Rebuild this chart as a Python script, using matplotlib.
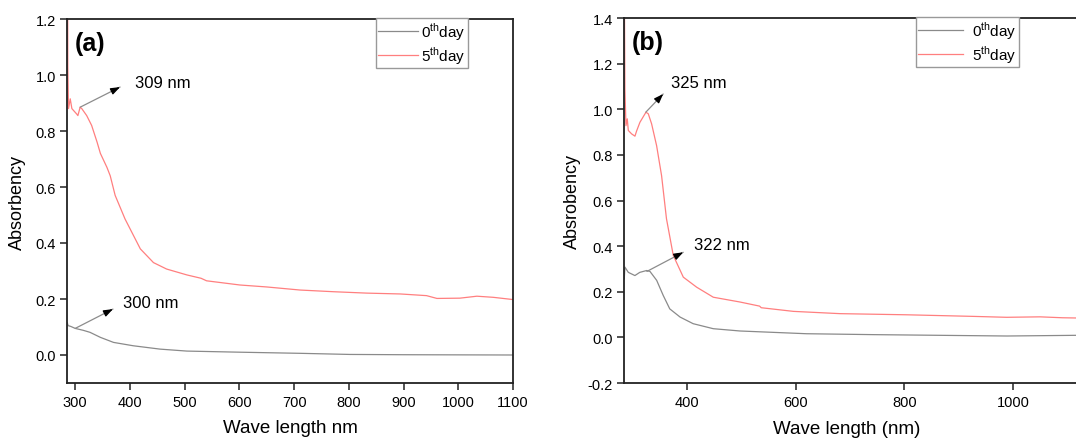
import matplotlib
matplotlib.use("Agg")
import matplotlib.pyplot as plt

plt.rcParams['font.family'] = ['Liberation Sans', 'DejaVu Sans']
plt.rcParams['mathtext.fontset'] = 'custom'
plt.rcParams['mathtext.rm'] = 'Liberation Sans'

# ---------------- data (a) ----------------
wl_a_day5 = [286, 286.5, 287.8, 290.9, 293.9, 303, 304.9, 309, 312, 321, 330, 340, 346,
             358, 364, 373, 391, 419, 443, 467, 504, 530, 540, 601, 650, 711, 772, 833,
             894, 942, 961, 1003, 1034, 1064, 1100]
abs_a_day5 = [1.5, 1.03, 0.88, 0.915, 0.88, 0.86, 0.855, 0.885, 0.88, 0.855, 0.82, 0.76, 0.72,
              0.67, 0.64, 0.57, 0.486, 0.379, 0.33, 0.307, 0.286, 0.274, 0.265, 0.25, 0.243,
              0.232, 0.226, 0.221, 0.218, 0.212, 0.202, 0.203, 0.21, 0.206, 0.198]
wl_a_day0 = [285.5, 287, 292, 300, 315, 327, 346, 370, 406, 455, 504, 601, 711, 802, 900, 1100]
abs_a_day0 = [0.115, 0.105, 0.102, 0.095, 0.088, 0.081, 0.063, 0.045, 0.033, 0.021, 0.014,
              0.01, 0.006, 0.002, 0.001, 0.0]

# ---------------- data (b) ----------------
wl_b_day5 = [285.5, 286.7, 288.6, 291, 292.9, 299, 305.1, 308.2, 314.3, 325.3, 329.6, 335.7,
             344.9, 354, 363, 375.5, 393.9, 418.4, 449, 498, 534, 537, 596, 681.6, 804, 926.5,
             987.7, 1049, 1090, 1115]
abs_b_day5 = [1.6, 1.089, 0.928, 0.958, 0.907, 0.892, 0.882, 0.905, 0.943, 0.987, 0.98, 0.936,
              0.84, 0.709, 0.52, 0.359, 0.264, 0.22, 0.176, 0.155, 0.137, 0.13, 0.114, 0.104,
              0.099, 0.092, 0.088, 0.09, 0.086, 0.085]
wl_b_day0 = [285.5, 286.7, 292.9, 305, 314, 326.5, 332.7, 345, 357, 369, 388, 412, 449, 498,
             620, 743, 865, 988, 1115]
abs_b_day0 = [0.257, 0.308, 0.285, 0.271, 0.285, 0.293, 0.289, 0.25, 0.184, 0.125, 0.089,
              0.06, 0.038, 0.028, 0.016, 0.012, 0.009, 0.006, 0.009]

legend_labels = ["0$^{\\mathrm{th}}$day", "5$^{\\mathrm{th}}$day"]
xticks_a = [300, 400, 500, 600, 700, 800, 900, 1000, 1100]
yticks_a = [0.0, 0.2, 0.4, 0.6, 0.8, 1.0, 1.2]
xticks_b = [400, 600, 800, 1000]
yticks_b = [-0.2, 0.0, 0.2, 0.4, 0.6, 0.8, 1.0, 1.2, 1.4]

GRAY = '#8a8a8a'
RED = '#ff7f7f'
SPINE = '#222222'

fig = plt.figure(figsize=(10.76, 4.39), dpi=100)
W, H = 1076, 439
ax1 = fig.add_axes([67 / W, 1 - 384 / H, (513 - 67) / W, (384 - 20) / H])
ax2 = fig.add_axes([624 / W, 1 - 384 / H, (1076 - 624) / W, (384 - 19) / H])


def style(ax):
    for s in ax.spines.values():
        s.set_linewidth(1.3)
        s.set_color(SPINE)
    ax.tick_params(direction='out', length=5, width=1.1, color=SPINE,
                   labelsize=10.5, pad=3, top=False, right=False)
    ax.tick_params(axis='x', pad=4)


def arrow(ax, start, tip):
    ax.annotate('', xy=tip, xytext=start,
                arrowprops=dict(arrowstyle='-', color='#8c8c8c', lw=0.9, shrinkA=0, shrinkB=0))
    dx = tip[0] - start[0]
    dy = tip[1] - start[1]
    f = 0.82
    ax.annotate('', xy=tip, xytext=(start[0] + f * dx, start[1] + f * dy),
                arrowprops=dict(arrowstyle='-|>,head_length=0.55,head_width=0.2',
                                color='black', lw=0.9, shrinkA=0, shrinkB=0))


def legend(ax, x0, hl, htp):
    leg = ax.legend(loc='upper left', bbox_to_anchor=(x0, 1.003), fontsize=11,
                    frameon=True, fancybox=False, edgecolor='#999999', framealpha=1,
                    handlelength=hl, handletextpad=htp, borderpad=0.15, labelspacing=0.15,
                    borderaxespad=0)
    leg.get_frame().set_linewidth(1.0)


# ---------- panel (a) ----------
ax1.plot(wl_a_day0, abs_a_day0, color=GRAY, lw=0.9, label=legend_labels[0])
ax1.plot(wl_a_day5, abs_a_day5, color=RED, lw=0.9, label=legend_labels[1])
ax1.set_xlim(285, 1100)
ax1.set_ylim(-0.1, 1.2)
ax1.set_xticks(xticks_a)
ax1.set_yticks(yticks_a)
ax1.set_xticklabels([str(v) for v in xticks_a])
ax1.set_yticklabels([f"{v:.1f}" for v in yticks_a])
style(ax1)
ax1.set_xlabel("Wave length nm", fontsize=13.5)
ax1.set_ylabel("Absorbency", fontsize=13)
ax1.xaxis.set_label_coords(0.5, -0.121)
ax1.xaxis.label.set_va('center')
ax1.yaxis.set_label_coords(-0.11, 0.5)
ax1.yaxis.label.set_va('center')
ax1.text(0.018, 0.935, "(a)", transform=ax1.transAxes, fontsize=18, fontweight='bold',
         ha='left', va='center')
legend(ax1, 0.693, 2.6, 0.2)
arrow(ax1, (309, 0.885), (382, 0.957))
ax1.text(409.6, 0.975, "309 nm", fontsize=12, ha='left', va='center')
arrow(ax1, (300, 0.095), (369, 0.164))
ax1.text(387.7, 0.189, "300 nm", fontsize=12, ha='left', va='center')

# ---------- panel (b) ----------
ax2.plot(wl_b_day0, abs_b_day0, color=GRAY, lw=0.9, label=legend_labels[0])
ax2.plot(wl_b_day5, abs_b_day5, color=RED, lw=0.9, label=legend_labels[1])
ax2.set_xlim(285, 1115)
ax2.set_ylim(-0.2, 1.4)
ax2.set_xticks(xticks_b)
ax2.set_yticks(yticks_b)
ax2.set_xticklabels([str(v) for v in xticks_b])
ax2.set_yticklabels([f"{v:.1f}" for v in yticks_b])
style(ax2)
ax2.spines['right'].set_visible(False)
ax2.set_xlabel("Wave length (nm)", fontsize=13.5)
ax2.set_ylabel("Absrobency", fontsize=13)
ax2.xaxis.set_label_coords(0.492, -0.124)
ax2.xaxis.label.set_va('center')
ax2.yaxis.set_label_coords(-0.115, 0.5)
ax2.yaxis.label.set_va('center')
ax2.text(0.018, 0.935, "(b)", transform=ax2.transAxes, fontsize=18, fontweight='bold',
         ha='left', va='center')
legend(ax2, 0.646, 2.9, 0.6)
arrow(ax2, (325, 0.987), (357, 1.067))
ax2.text(371, 1.119, "325 nm", fontsize=12, ha='left', va='center')
arrow(ax2, (327, 0.289), (393.8, 0.373))
ax2.text(413.4, 0.409, "322 nm", fontsize=12, ha='left', va='center')

fig.savefig("out.png", dpi=100)
